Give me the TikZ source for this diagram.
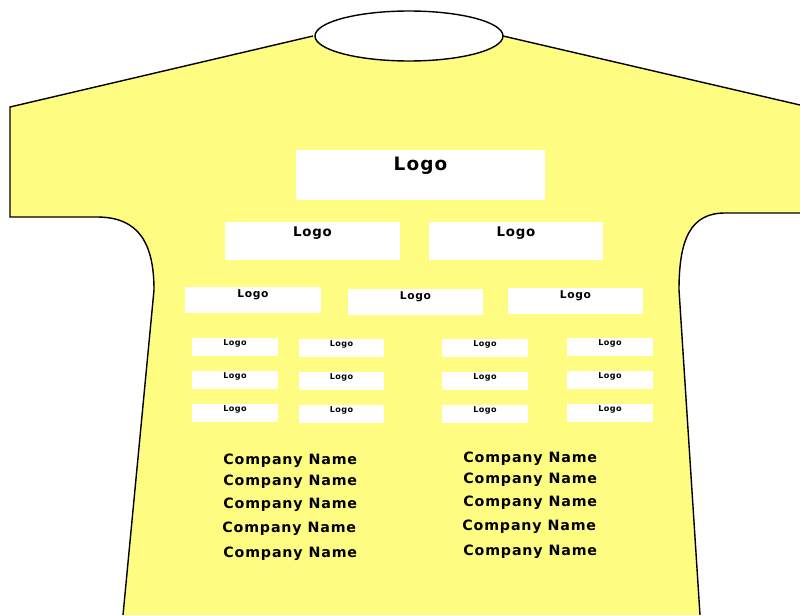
\documentclass[tikz,border=0pt]{standalone}
\usepackage{fontspec}
\newfontfamily\shirtfont[LetterSpace=6]{DejaVu Sans}
\usetikzlibrary{positioning}
\definecolor{shirtyellow}{RGB}{255,252,130}

\begin{document}
\begin{tikzpicture}[
  x=0.02cm, y=-0.02cm,
  node distance=0.29cm,
  outline/.style={draw=black, line width=0.8pt},
  patch/.style={rectangle, fill=white, inner sep=0pt},
  toplogo/.style={patch, minimum width=4.98cm, minimum height=1cm,
    label={[anchor=north, inner sep=0.15cm, font=\shirtfont\bfseries\fontsize{10.5pt}{11pt}\selectfont]north:Logo}},
  midlogo/.style={patch, minimum width=3.5cm, minimum height=0.76cm,
    label={[anchor=north, inner sep=0.1cm, font=\shirtfont\bfseries\fontsize{7.6pt}{8pt}\selectfont]north:Logo}},
  rowlogo/.style={patch, minimum width=2.72cm, minimum height=0.52cm,
    label={[anchor=north, inner sep=0.06cm, font=\shirtfont\bfseries\fontsize{6.1pt}{7pt}\selectfont]north:Logo}},
  minilogo/.style={patch, minimum width=1.72cm, minimum height=0.36cm,
    label={[anchor=north, inner sep=0.03cm, font=\shirtfont\bfseries\fontsize{4.6pt}{5pt}\selectfont]north:Logo}},
  sponsor/.style={anchor=west, inner sep=0pt, font=\shirtfont\bfseries\fontsize{8.1pt}{9pt}\selectfont}
]
\useasboundingbox (0,0) rectangle (800,615);

% shirt body
\fill[shirtyellow] (313,36) -- (10,107) -- (10,217) -- (97,217)
  .. controls (140,217) and (154,245) .. (154,290) -- (123,615) -- (700,615)
  -- (679,290) .. controls (679,240) and (690,213) .. (725,213)
  -- (800,213) -- (800,105) -- (503,36) -- cycle;
\draw[outline] (123,615) -- (154,290) .. controls (154,245) and (140,217) .. (97,217)
  -- (10,217) -- (10,107) -- (313,36);
\draw[outline] (503,36) -- (800,105);
\draw[outline] (800,213) -- (725,213) .. controls (690,213) and (679,240) .. (679,290) -- (700,615);
\filldraw[outline, fill=white] (409,36) ellipse [x radius=1.88cm, y radius=0.5cm];

% logos
\node[toplogo] (main) at (420.5,175) {};
\node[midlogo] (midl) at (312.5,241) {};
\node[midlogo] (midr) at (516,241) {};
\node[rowlogo] (rowl) at (253,300) {};
\node[rowlogo] (rowc) at (415.5,302) {};
\node[rowlogo] (rowr) at (575.5,300.5) {};

\node[minilogo] (ma1) at (235,347) {};
\node[minilogo, below=of ma1] (ma2) {};
\node[minilogo, below=of ma2] (ma3) {};
\node[minilogo] (mb1) at (341.5,348) {};
\node[minilogo, below=of mb1] (mb2) {};
\node[minilogo, below=of mb2] (mb3) {};
\node[minilogo] (mc1) at (485,348) {};
\node[minilogo, below=of mc1] (mc2) {};
\node[minilogo, below=of mc2] (mc3) {};
\node[minilogo] (md1) at (610,347) {};
\node[minilogo, below=of md1] (md2) {};
\node[minilogo, below=of md2] (md3) {};

% company names
\node[sponsor] (cl1) at (223,461) {Company Name};
\node[sponsor] (cl2) at (223,482) {Company Name};
\node[sponsor] (cl3) at (223,505) {Company Name};
\node[sponsor] (cl4) at (222,529) {Company Name};
\node[sponsor] (cl5) at (223,554) {Company Name};
\node[sponsor] (cr1) at (463,459) {Company Name};
\node[sponsor] (cr2) at (463,480) {Company Name};
\node[sponsor] (cr3) at (463,503) {Company Name};
\node[sponsor] (cr4) at (462,527) {Company Name};
\node[sponsor] (cr5) at (463,552) {Company Name};

\end{tikzpicture}
\end{document}
